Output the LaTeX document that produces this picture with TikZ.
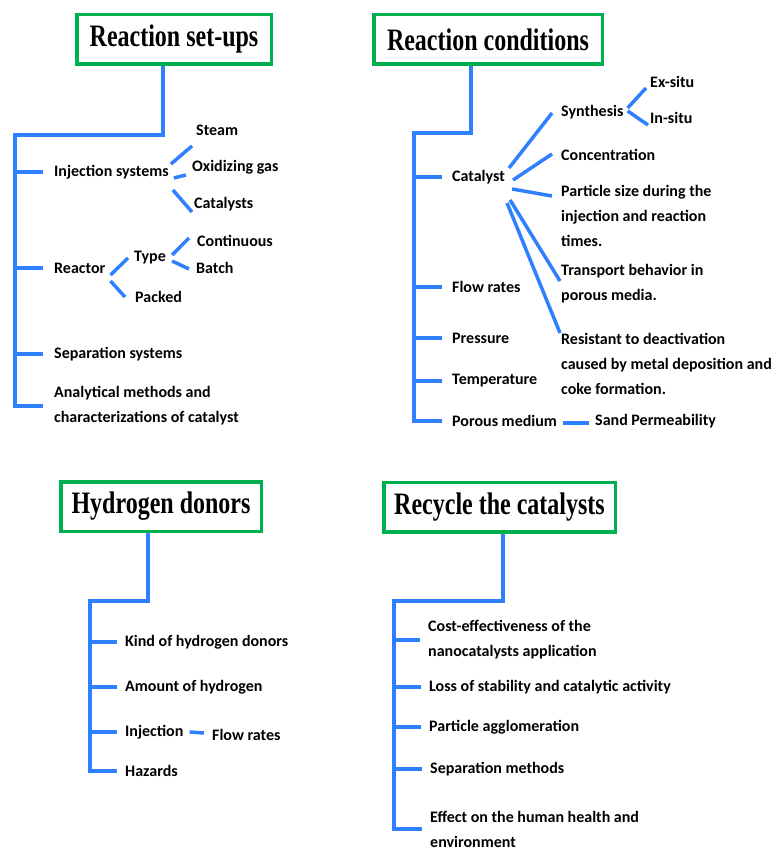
\documentclass[tikz,border=0pt]{standalone}
\usepackage{fontspec}
\newfontfamily\bodyfont{Carlito}
\newfontfamily\headfont{Liberation Serif}
\definecolor{boxgreen}{RGB}{0,176,80}
\definecolor{linkblue}{RGB}{47,128,255}

\begin{document}
\begin{tikzpicture}[
    x=1pt, y=-1pt,
    title/.style={draw=boxgreen, line width=3.5pt, minimum height=49.5pt, inner sep=0pt, font=\headfont\bfseries\fontsize{24}{24}\selectfont},
    item/.style={anchor=west, inner sep=0pt, align=left, font=\bodyfont\bfseries\fontsize{16}{25}\selectfont},
    link/.style={draw=linkblue, line width=3.5pt}
]
    \useasboundingbox (0,0) rectangle (773,850);

    % Reaction set-ups
    \node[title, minimum width=194.5pt] (setups) at (174,39.5) {\scalebox{1}[1.3]{Reaction set-ups}\hspace{6pt}};
    \coordinate (setk) at (15,135);
    \node[item] (inj) at (54,172) {Injection systems};
    \node[item] (steam) at (196,130) {Steam};
    \node[item] (oxgas) at (192,167) {Oxidizing gas};
    \node[item] (cats) at (194,204) {Catalysts};
    \node[item] (reactor) at (54,268) {Reactor};
    \node[item] (type) at (134,258) {Type};
    \node[item] (cont) at (197,241) {Continuous};
    \node[item] (batch) at (196,268) {Batch};
    \node[item] (packed) at (135,297) {Packed};
    \node[item] (sepsys) at (54,354) {Separation systems};
    \node[item] (anal) at (54,406) {Analytical methods and\\characterizations of catalyst};

    \draw[link] ([xshift=-11pt]setups.south) |- (setk) -- (setk |- anal.west) -- ([xshift=-11pt]anal.west);
    \foreach \n in {inj, reactor, sepsys}
        \draw[link] (setk |- \n.west) -- ([xshift=-11pt]\n.west);
    \draw[link] ([xshift=2pt,yshift=8pt]inj.east) -- ([xshift=-4pt,yshift=-16pt]steam.west);
    \draw[link] ([xshift=5pt,yshift=-6pt]inj.east) -- ([xshift=-6pt,yshift=-8pt]oxgas.west);
    \draw[link] ([xshift=4pt,yshift=-18pt]inj.east) -- ([xshift=-2pt,yshift=-8pt]cats.west);
    \draw[link] ([xshift=5pt,yshift=-7pt]reactor.east) -- ([xshift=-6pt]type.west);
    \draw[link] ([xshift=5pt,yshift=-13pt]reactor.east) -- ([xshift=-10pt]packed.west);
    \draw[link] ([xshift=6pt,yshift=3pt]type.east) -- ([xshift=-8pt,yshift=3pt]cont.west);
    \draw[link] ([xshift=6pt,yshift=-3pt]type.east) -- ([xshift=-7pt,yshift=-1pt]batch.west);

    % Reaction conditions
    \node[title, minimum width=228.5pt] (conds) at (488,39.5) {\scalebox{1}[1.3]{Reaction conditions}\hspace{9pt}};
    \coordinate (condk) at (414,133);
    \node[item] (catal) at (452,177) {Catalyst};
    \node[item] (flow) at (452,287) {Flow rates};
    \node[item] (press) at (452,338) {Pressure};
    \node[item] (temp) at (452,381) {Temperature};
    \node[item] (porous) at (452,421) {Porous medium};
    \node[item] (sand) at (595,421) {Sand Permeability};
    \node[item] (synth) at (561,112) {Synthesis};
    \node[item] (exsitu) at (650,82) {Ex-situ};
    \node[item] (insitu) at (650,118) {In-situ};
    \node[item] (conc) at (561,155) {Concentration};
    \node[item] (psize) at (561,215.5) {Particle size during the\\injection and reaction\\times.};
    \node[item] (transp) at (561,284) {Transport behavior in\\porous media.};
    \node[item] (resist) at (561,364) {Resistant to deactivation\\caused by metal deposition and\\coke formation.};

    \draw[link] ([xshift=-17pt]conds.south) |- (condk) -- (condk |- porous.west) -- ([xshift=-10pt]porous.west);
    \foreach \n in {catal, flow, press, temp}
        \draw[link] (condk |- \n.west) -- ([xshift=-10pt]\n.west);
    \draw[link] ([xshift=4pt,yshift=9pt]catal.east) -- ([xshift=-9pt,yshift=-1pt]synth.west);
    \draw[link] ([xshift=8pt,yshift=-3pt]catal.east) -- ([xshift=-9pt,yshift=1pt]conc.west);
    \draw[link] ([xshift=7pt,yshift=-12pt]catal.east) -- ([xshift=-9pt,yshift=19.5pt]psize.west);
    \draw[link] ([xshift=5pt,yshift=-23pt]catal.east) -- ([xshift=-1pt,yshift=3pt]transp.west);
    \draw[link] ([xshift=2pt,yshift=-26pt]catal.east) -- ([xshift=-1pt,yshift=31pt]resist.west);
    \draw[link] ([xshift=4pt,yshift=4pt]synth.east) -- ([xshift=-4pt,yshift=-6pt]exsitu.west);
    \draw[link] ([xshift=4pt,yshift=1pt]synth.east) -- ([xshift=-2pt,yshift=-7pt]insitu.west);
    \draw[link] ([xshift=6pt,yshift=-2pt]porous.east) -- ([xshift=-6pt,yshift=-2pt]sand.west);

    % Hydrogen donors
    \node[title, minimum width=200.5pt] (donors) at (161,506.5) {\scalebox{1}[1.3]{Hydrogen donors}\hspace{4pt}};
    \coordinate (donk) at (90,601);
    \node[item] (kind) at (125,642) {Kind of hydrogen donors};
    \node[item] (amount) at (125,687) {Amount of hydrogen};
    \node[item] (hinj) at (125,732) {Injection};
    \node[item] (hflow) at (212,735) {Flow rates};
    \node[item] (hazard) at (125,771) {Hazards};

    \draw[link] ([xshift=-13pt]donors.south) |- (donk) -- (donk |- hazard.west) -- ([xshift=-8pt]hazard.west);
    \foreach \n in {kind, amount, hinj}
        \draw[link] (donk |- \n.west) -- ([xshift=-8pt]\n.west);
    \draw[link] ([xshift=6pt]hinj.east) -- ([xshift=-8pt,yshift=2pt]hflow.west);

    % Recycle the catalysts
    \node[title, minimum width=231.5pt] (recycle) at (499.5,507) {\scalebox{1}[1.3]{Recycle the catalysts}\hspace{2pt}};
    \coordinate (reck) at (394,601);
    \node[item] (cost) at (428,640) {Cost-effectiveness of the\\nanocatalysts application};
    \node[item] (loss) at (429,687) {Loss of stability and catalytic activity};
    \node[item] (agglo) at (429,727) {Particle agglomeration};
    \node[item] (sepm) at (430,769) {Separation methods};
    \node[item] (effect) at (430,829) {Effect on the human health and\\environment};

    \draw[link] ([xshift=3.5pt]recycle.south) |- (reck) -- (reck |- effect.west) -- ([xshift=-8pt]effect.west);
    \foreach \n in {cost, loss, agglo, sepm}
        \draw[link] (reck |- \n.west) -- ([xshift=-8pt]\n.west);
\end{tikzpicture}
\end{document}
